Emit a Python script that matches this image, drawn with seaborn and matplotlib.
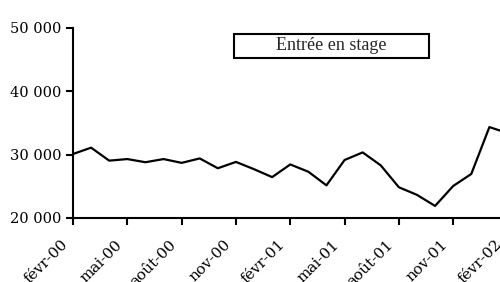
import pandas as pd
import seaborn as sns
import matplotlib.pyplot as plt
from matplotlib.patches import Rectangle
from matplotlib.ticker import FuncFormatter
from matplotlib.transforms import ScaledTranslation

# mois de févr-00 à févr-02
mois = ['févr-00', 'mars-00', 'avr-00', 'mai-00', 'juin-00', 'juil-00', 'août-00',
        'sept-00', 'oct-00', 'nov-00', 'déc-00', 'janv-01', 'févr-01', 'mars-01',
        'avr-01', 'mai-01', 'juin-01', 'juil-01', 'août-01', 'sept-01', 'oct-01',
        'nov-01', 'déc-01', 'janv-02', 'févr-02']
entrees = [30100, 31100, 29050, 29300, 28800, 29300, 28700, 29400, 27850, 28850,
           27700, 26450, 28450, 27300, 25150, 29150, 30350, 28300, 24850, 23650,
           21900, 25050, 26950, 34350, 33400]

df = pd.DataFrame({'t': range(len(mois)), 'entrees': entrees})

sns.set_style('white')
plt.rcParams['font.family'] = ['DejaVu Serif']

fig = plt.figure(figsize=(5, 2.82), dpi=100)
ax = fig.add_axes([0.146, 0.227, 0.869, 0.674])

sns.lineplot(data=df, x='t', y='entrees', color='black', linewidth=1.6,
             label='Entrée en stage', ax=ax)

ax.set_xlim(0, 24)
ax.set_ylim(20000, 50000)
ax.set_yticks([20000, 30000, 40000, 50000])
ax.yaxis.set_major_formatter(FuncFormatter(lambda v, p: f'{int(v):,}'.replace(',', ' ')))
ax.set_xticks(range(0, len(mois), 3))
ax.set_xticklabels(mois[::3], rotation=45, ha='right', rotation_mode='anchor')
ax.set_xlabel('')
ax.set_ylabel('')

for s in ['top', 'right']:
    ax.spines[s].set_visible(False)
for s in ['left', 'bottom']:
    ax.spines[s].set_color('black')
    ax.spines[s].set_linewidth(1.5)
ax.tick_params(axis='both', direction='out', length=5, width=1.5, colors='black',
               labelsize=10.5, left=True, bottom=True)
ax.tick_params(axis='x', pad=3, labelsize=11)

# decaler les etiquettes un peu a gauche, comme dans Excel
off = ScaledTranslation(-9 / 72, -6 / 72, fig.dpi_scale_trans)
for lab in ax.get_xticklabels():
    lab.set_transform(lab.get_transform() + off)

# legende encadree
leg = ax.legend(loc='center', bbox_to_anchor=(0.595, 0.905), frameon=False,
                handlelength=0, handletextpad=0,
                prop={'family': 'Liberation Serif', 'size': 13})
for h in leg.legend_handles:
    h.set_visible(False)
ax.add_patch(Rectangle((0.371, 0.842), 0.449, 0.126, transform=ax.transAxes,
                       fill=False, edgecolor='black', linewidth=1.5))

fig.savefig('out.png', dpi=100)
